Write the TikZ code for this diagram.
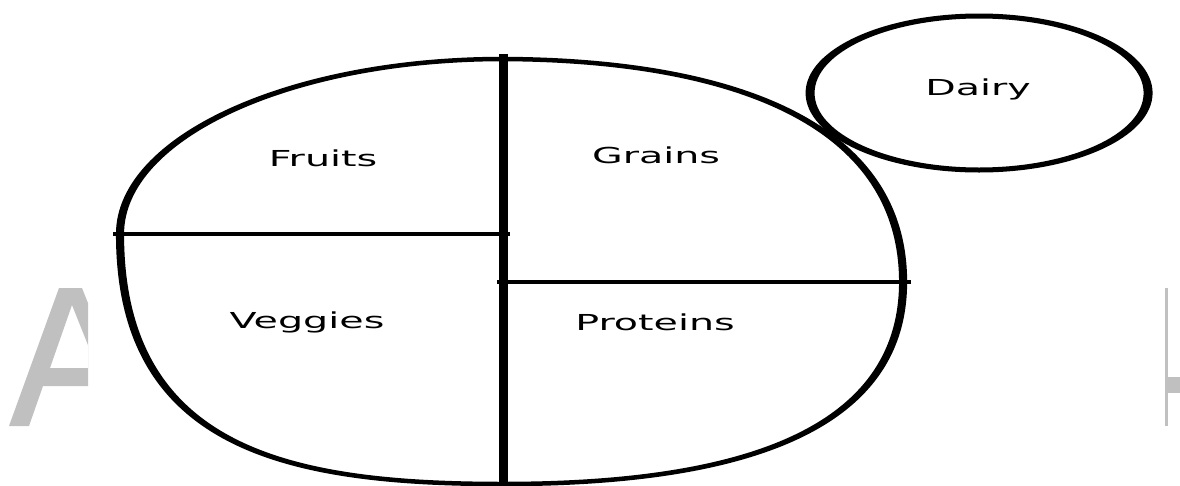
\documentclass[tikz,border=0pt]{standalone}
\usepackage{fontspec}
\setmainfont{DejaVu Sans}
\usetikzlibrary{positioning}
\definecolor{wmgray}{HTML}{C0C0C0}

\begin{document}
\begin{tikzpicture}[x=1pt, y=-1pt,
  rim/.style={line width=4.5pt, line cap=round},
  divider/.style={line width=5pt},
  split/.style={line width=3.5pt},
  food/.style={anchor=base, inner sep=0pt, font=\fontsize{22}{26}\selectfont},
]
\useasboundingbox (0,0) rectangle (1180,485);

% faded watermark pieces
\fill[wmgray, even odd rule] (9,426) -- (59,288) -- (82,288) -- (88,303) -- (88,386) -- (43,386) -- (29,426) -- cycle
  (72,305) -- (88,345) -- (88,368) -- (50,368) -- cycle;
\fill[wmgray] (1165,288) rectangle (1167.5,426);
\fill[wmgray] (1165,377) rectangle (1180,393);

\begin{scope}[x=0.5556pt, transform canvas={xscale=1.8}]
% plate rim, one quarter at a time
\draw[rim] (120,234) .. controls (120,137) and (291,59) .. (503,59);
\draw[rim] (503,59) .. controls (722,60) and (903,118) .. (903,282);
\draw[rim] (903,282) .. controls (903,440) and (720,484) .. (503,484);
\draw[rim] (503,484) .. controls (290,484) and (120,450) .. (120,234);

% dividers
\coordinate (rimtop) at (503,54);
\coordinate (rimbot) at (503,490);
\coordinate (lsplitA) at (113,234);
\coordinate (lsplitB) at (510,234);
\coordinate (rsplitA) at (497,282);
\coordinate (rsplitB) at (911,282);
\draw[divider] (rimtop) -- (rimbot);
\draw[split] (lsplitA) -- (lsplitB);
\draw[split] (rsplitA) -- (rsplitB);

% dairy cup
\draw[rim, line width=5pt] (979,93) ellipse [x radius=169, y radius=77];

% labels
\node[food] (fruits) at (323,166) {Fruits};
\node[food] (grains) at (656,163) {Grains};
\node[food] (veggies) at (307,328) {Veggies};
\node[food] (proteins) at (655,330) {Proteins};
\node[food] (dairy) at (978,95) {Dairy};
\end{scope}
\end{tikzpicture}
\end{document}
